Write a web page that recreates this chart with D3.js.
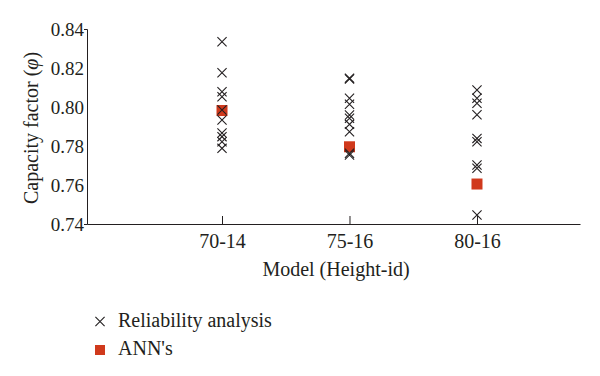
<!DOCTYPE html>
<html>
<head>
<meta charset="utf-8">
<script src="https://cdn.jsdelivr.net/npm/d3@7/dist/d3.min.js"></script>
<style>
  html, body { margin: 0; padding: 0; background: #fff; }
  svg text { font-family: "Liberation Serif", "DejaVu Serif", serif; fill: #231f20; }
</style>
</head>
<body>
<svg id="chart" width="600" height="376"></svg>
<script>
const categories = ["70-14", "75-16", "80-16"];
const reliability_70_14 = [0.8335, 0.8176, 0.8078, 0.8053, 0.7985, 0.7933, 0.7867, 0.7848, 0.7822, 0.7788];
const reliability_75_16 = [0.8148, 0.8144, 0.8045, 0.8014, 0.7959, 0.7942, 0.7911, 0.7873, 0.7763, 0.7754];
const reliability_80_16 = [0.8087, 0.8045, 0.8019, 0.7960, 0.7839, 0.7822, 0.7703, 0.7686, 0.7446];
const annValues = [0.7982, 0.7796, 0.7605];
const yTicks = [0.74, 0.76, 0.78, 0.80, 0.82, 0.84];
const legendLabels = ["Reliability analysis", "ANN's"];

const reliability = [reliability_70_14, reliability_75_16, reliability_80_16];

const svg = d3.select("#chart");
const mLeft = 87, mRight = 580, mTop = 29, mBottom = 224;
const ink = "#231f20";
const red = "#d0391c";
const fontFam = '"Liberation Serif", serif';

const x = d3.scaleLinear().domain([-0.059, 3.808]).range([mLeft, mRight]);
const y = d3.scaleLinear().domain([0.74, 0.84]).range([mBottom, mTop]);

// Y axis
const yAxis = svg.append("g")
  .attr("transform", `translate(${mLeft},0)`)
  .call(d3.axisLeft(y).tickValues(yTicks).tickFormat(d3.format(".2f")).tickSizeInner(0).tickSizeOuter(3).tickPadding(3));
yAxis.select(".domain").attr("stroke", ink).attr("stroke-width", 1);
yAxis.selectAll("text").attr("font-size", 19).attr("fill", ink).style("font-family", fontFam);

// X axis
const xAxis = svg.append("g")
  .attr("transform", `translate(0,${mBottom})`)
  .call(d3.axisBottom(x).tickValues([1, 2, 3]).tickFormat((d, i) => categories[i]).tickSizeInner(0).tickSizeOuter(0).tickPadding(10));
xAxis.select(".domain").attr("stroke", ink).attr("stroke-width", 1);
xAxis.selectAll(".tick line").attr("y2", -8).attr("stroke", ink);
xAxis.selectAll("text").attr("font-size", 20).attr("fill", ink).style("font-family", fontFam);

// Axis titles
svg.append("text")
  .attr("transform", `translate(38,128) rotate(-90)`)
  .attr("text-anchor", "middle")
  .attr("font-size", 20)
  .html('Capacity factor (<tspan font-style="italic">φ</tspan>)');

svg.append("text")
  .attr("x", 336).attr("y", 276)
  .attr("text-anchor", "middle")
  .attr("font-size", 20)
  .text("Model (Height-id)");

// Cross marks
const cs = 4.6;
const crossPath = `M${-cs},${-cs}L${cs},${cs}M${-cs},${cs}L${cs},${-cs}`;
const crossData = reliability.flatMap((vals, i) => vals.map(v => ({ c: i + 1, v })));

// ANN squares
const sq = 11;
svg.append("g").selectAll("rect").data(annValues).join("rect")
  .attr("x", (d, i) => x(i + 1) - sq / 2)
  .attr("y", d => y(d) - sq / 2)
  .attr("width", sq).attr("height", sq)
  .attr("fill", red);

svg.append("g").selectAll("path").data(crossData).join("path")
  .attr("transform", d => `translate(${x(d.c)},${y(d.v)})`)
  .attr("d", crossPath)
  .attr("stroke", ink).attr("stroke-width", 1.1).attr("fill", "none");

// Legend
const lg = svg.append("g");
lg.append("path").attr("transform", "translate(100,321.5)").attr("d", crossPath)
  .attr("stroke", ink).attr("stroke-width", 1.1).attr("fill", "none");
lg.append("text").attr("x", 118).attr("y", 327).attr("font-size", 20).text(legendLabels[0]);
lg.append("rect").attr("x", 95).attr("y", 345).attr("width", 10).attr("height", 10).attr("fill", red);
lg.append("text").attr("x", 118).attr("y", 355).attr("font-size", 20).text(legendLabels[1]);
</script>
</body>
</html>
